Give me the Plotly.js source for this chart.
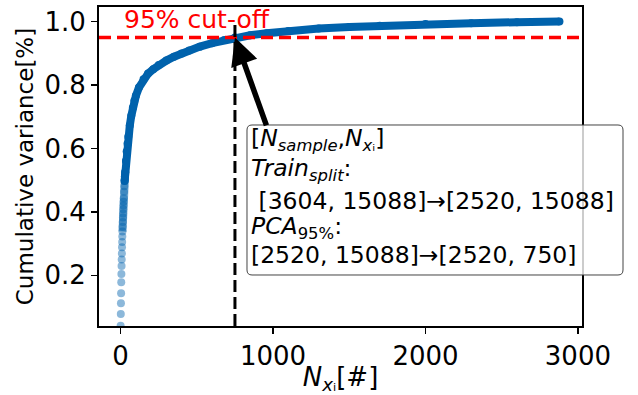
<!DOCTYPE html>
<html>
<head>
<meta charset="utf-8">
<script src="https://cdn.plot.ly/plotly-3.0.1.min.js"></script>
<style>html,body{margin:0;padding:0;background:#fff;}#chart{width:638px;height:395px;}</style>
</head>
<body>
<div id="chart"></div>
<script>
// Number of principal components (index) and cumulative explained variance ratio
const componentIndex = [0,1,2,3,4,5,6,7,8,9,10,11,12,13,14,15,16,17,18,19,20,22,24,26,28,30,35,40,45,50,60,70,80,90,100,120,150,180,214,250,300,350,400,450,520,600,680,750,850,958,1100,1300,1500,1700,2000,2300,2600,2879];
const cumulativeVariance = [0.041,0.078,0.112,0.143,0.178,0.204,0.229,0.250,0.269,0.288,0.305,0.322,0.338,0.353,0.368,0.382,0.395,0.408,0.420,0.432,0.443,0.463,0.481,0.497,0.512,0.526,0.560,0.590,0.615,0.637,0.672,0.703,0.728,0.750,0.766,0.792,0.818,0.836,0.850,0.863,0.877,0.889,0.899,0.909,0.921,0.932,0.942,0.950,0.957,0.963,0.970,0.978,0.983,0.987,0.992,0.995,0.998,1.000];

const cutoffLevel = 0.95;
const cutoffComponents = 750;
const xTicks = [0, 1000, 2000, 3000];
const yTicks = [0.2, 0.4, 0.6, 0.8, 1.0];
const xRange = [-142, 3027];
const yRange = [0.040, 1.046];

const boxLines = [
  "[<i>N</i><sub><i>sample</i></sub>,<i>N</i><sub><i>x</i>ᵢ</sub>]",
  "<i>Train</i><sub><i>split</i></sub>:",
  "\u00a0[3604, 15088]\u2192[2520, 15088]",
  "<i>PCA</i><sub>95%</sub>:",
  "[2520, 15088]\u2192[2520, 750]"
];

const blue = "rgb(0,98,172)";
const font = "DejaVu Sans, sans-serif";

const sparseX = [], sparseY = [], midX = [], midY = [], denseX = [], denseY = [];
componentIndex.forEach((c, i) => {
  if (c <= 40) { sparseX.push(c); sparseY.push(cumulativeVariance[i]); }
  if (c >= 12 && c <= 30) { midX.push(c); midY.push(cumulativeVariance[i]); }
  if (c >= 26) { denseX.push(c); denseY.push(cumulativeVariance[i]); }
});

const traces = [
  { x: midX, y: midY, mode: "lines", type: "scatter",
    line: { color: blue, width: 8 }, opacity: 0.55,
    hoverinfo: "skip", showlegend: false },
  { x: denseX, y: denseY, mode: "lines+markers", type: "scatter",
    line: { color: blue, width: 8 }, marker: { color: blue, size: 8 },
    hoverinfo: "skip", showlegend: false },
  { x: sparseX, y: sparseY, mode: "markers", type: "scatter",
    marker: { color: blue, size: 8, opacity: 0.45 },
    hoverinfo: "skip", showlegend: false }
];

const axisCommon = {
  showgrid: false, zeroline: false, showline: true, mirror: true,
  linecolor: "black", linewidth: 2, ticks: "outside", ticklen: 6,
  tickwidth: 1.5, tickcolor: "black",
  tickfont: { family: font, size: 26, color: "black" }
};

// rounded info box (paper coordinates)
const bx0 = 0.3064, bx1 = 1.0849, by0 = 0.1599, by1 = 0.6301, rx = 0.0104, ry = 0.0157;
const boxPath = `M ${bx0 + rx},${by1} L ${bx1 - rx},${by1} Q ${bx1},${by1} ${bx1},${by1 - ry} ` +
  `L ${bx1},${by0 + ry} Q ${bx1},${by0} ${bx1 - rx},${by0} L ${bx0 + rx},${by0} ` +
  `Q ${bx0},${by0} ${bx0},${by0 + ry} L ${bx0},${by1 - ry} Q ${bx0},${by1} ${bx0 + rx},${by1} Z`;

// vertical centre of each box line (paper y)
const boxLineY = [0.585, 0.490, 0.392, 0.310, 0.222];

const boxAnnotations = boxLines.map((t, i) => ({
  x: 0.3135, y: boxLineY[i], xref: "paper", yref: "paper", xanchor: "left", yanchor: "middle",
  text: t, showarrow: false, align: "left", borderpad: 0,
  font: { family: font, size: 23.5, color: "black" }
}));

const layout = {
  width: 638, height: 395,
  margin: { l: 99, r: 56, t: 7, b: 69 },
  paper_bgcolor: "white", plot_bgcolor: "white",
  xaxis: Object.assign({}, axisCommon, {
    range: xRange, tickvals: xTicks, ticktext: xTicks.map(String),
    title: { text: "<i>N</i><sub><i>x</i>ᵢ</sub>[#]", font: { family: font, size: 26, color: "black" }, standoff: 2 }
  }),
  yaxis: Object.assign({}, axisCommon, {
    range: yRange, tickvals: yTicks, ticktext: yTicks.map(v => v.toFixed(1)),
    title: { text: "Cumulative variance[%]", font: { family: font, size: 23, color: "black" }, standoff: 4 }
  }),
  shapes: [
    { type: "line", xref: "paper", x0: 0, x1: 1, yref: "y", y0: cutoffLevel, y1: cutoffLevel,
      line: { color: "red", width: 3.5, dash: "12px,6px" }, layer: "above" },
    { type: "line", xref: "x", x0: cutoffComponents, x1: cutoffComponents, yref: "y", y0: yRange[0], y1: 0.99,
      line: { color: "black", width: 3, dash: "12px,5px" }, layer: "above" },
    { type: "path", xref: "paper", yref: "paper", path: boxPath,
      fillcolor: "rgba(255,255,255,0.8)", line: { color: "#444", width: 1 }, layer: "above" }
  ],
  annotations: [
    { x: 500, y: 0.953, xref: "x", yref: "y", text: "95% cut-off", showarrow: false,
      yanchor: "bottom", font: { family: font, size: 25, color: "red" } },
    { x: cutoffComponents, y: cutoffLevel, xref: "x", yref: "y", ax: 960, ay: 0.668, axref: "x", ayref: "y",
      text: "", showarrow: true, arrowhead: 2, arrowsize: 1.0, arrowwidth: 5.5, arrowcolor: "black", standoff: 0 }
  ].concat(boxAnnotations)
};

Plotly.newPlot("chart", traces, layout, { displayModeBar: false, staticPlot: true });
</script>
</body>
</html>
